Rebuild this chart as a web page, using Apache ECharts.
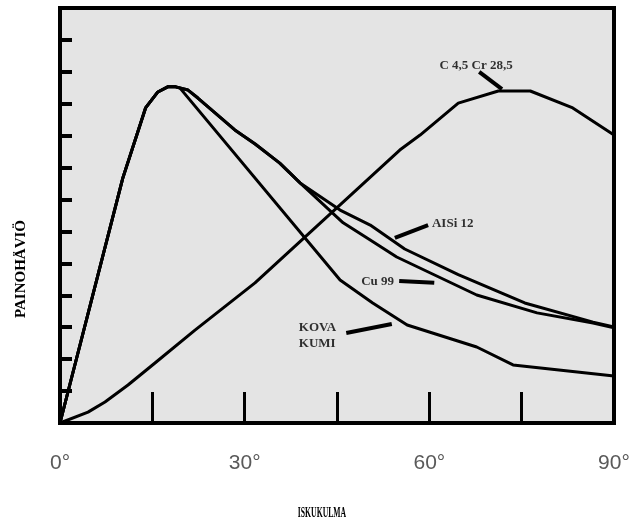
<!DOCTYPE html>
<html>
<head>
<meta charset="utf-8">
<script src="https://cdn.jsdelivr.net/npm/echarts@6/dist/echarts.min.js"></script>
<style>
html,body{margin:0;padding:0;background:#fff;}
#c{width:641px;height:522px;}
</style>
</head>
<body>
<div id="c"></div>
<script>
// X axis: impact angle in degrees; Y axis: weight loss (unlabelled tick units)
const xTickValues = [0, 30, 60, 90];
const xTickLabels = ['0°', '30°', '60°', '90°'];
const xTitle = 'ISKUKULMA';
const yTitle = 'PAINOHÄVIÖ';

const kovaX = [0, 10.2, 13.9, 15.9, 17.5, 18.8, 19.5, 45.5, 50.8, 56.4, 67.7, 73.6, 90];
const kovaY = [0, 7.67, 9.87, 10.37, 10.53, 10.53, 10.49, 4.48, 3.76, 3.07, 2.38, 1.82, 1.47];

const aisiX = [0, 10.2, 13.9, 15.9, 17.5, 18.8, 20.8, 22.4, 28.4, 31.7, 35.7, 39.0, 45.5, 50.4, 56.0, 64.7, 75.5, 86.6, 90];
const aisiY = [0, 7.67, 9.87, 10.37, 10.53, 10.53, 10.43, 10.18, 9.18, 8.74, 8.14, 7.52, 6.67, 6.20, 5.45, 4.65, 3.76, 3.16, 3.01];

const cuX = [0, 10.2, 13.9, 15.9, 17.5, 18.8, 20.8, 22.4, 28.4, 31.7, 35.7, 39.0, 46.0, 50.4, 54.7, 67.7, 77.5, 86.6, 90];
const cuY = [0, 7.67, 9.87, 10.37, 10.53, 10.53, 10.43, 10.18, 9.18, 8.74, 8.14, 7.52, 6.27, 5.73, 5.20, 4.01, 3.45, 3.13, 2.98];

const crX = [0, 4.55, 7.31, 11.05, 15.43, 21.93, 31.68, 55.2, 58.5, 64.7, 71.2, 76.4, 83.3, 90];
const crY = [0, 0.34, 0.66, 1.19, 1.88, 2.91, 4.39, 8.55, 9.02, 10.02, 10.40, 10.40, 9.87, 9.02];

// curve annotations (data coordinates)
const noteText = ['C 4,5 Cr 28,5', 'AISi 12', 'Cu 99', 'KOVA\nKUMI'];
const noteX = [67.6, 63.8, 51.6, 38.8];
const noteY = [11.21, 6.23, 4.42, 2.73];
const noteAlign = ['center', 'center', 'center', 'left'];
const leaderX1 = [68.1, 54.4, 55.1, 46.5];
const leaderY1 = [11.0, 5.80, 4.45, 2.82];
const leaderX2 = [71.8, 59.8, 60.8, 53.9];
const leaderY2 = [10.46, 6.20, 4.39, 3.10];

function pairs(xs, ys) { return xs.map((x, i) => [x, ys[i]]); }

const curveStyle = { color: '#000', width: 3 };
function curve(name, xs, ys) {
  return {
    name: name, type: 'line', data: pairs(xs, ys), symbol: 'none',
    lineStyle: curveStyle, itemStyle: { color: '#000' }, silent: true, z: 3
  };
}

const serifFont = '"Liberation Serif", "DejaVu Serif", serif';

const chart = echarts.init(document.getElementById('c'), null, { renderer: 'canvas' });
chart.setOption({
  animation: false,
  backgroundColor: '#fff',
  grid: {
    left: 60, right: 27, top: 8, bottom: 99,
    show: true, backgroundColor: '#e4e4e4', borderColor: '#000', borderWidth: 4
  },
  graphic: [
    {
      type: 'text', z: 10, x: 322, y: 513, scaleX: 0.55,
      style: {
        text: xTitle, fontFamily: serifFont, fontWeight: 'bold', fontSize: 14,
        fill: '#000', align: 'center', verticalAlign: 'middle'
      }
    },
    {
      type: 'text', z: 10, x: 21, y: 269, rotation: Math.PI / 2,
      style: {
        text: yTitle, fontFamily: serifFont, fontWeight: 'bold', fontSize: 15,
        fill: '#000', align: 'center', verticalAlign: 'middle'
      }
    }
  ],
  xAxis: {
    type: 'value', min: 0, max: 90, interval: 15,
    axisLine: { show: false },
    splitLine: { show: false },
    axisTick: { show: true, inside: true, length: 31, lineStyle: { color: '#000', width: 3 } },
    axisLabel: {
      margin: 30,
      fontFamily: '"Liberation Sans", Arial, sans-serif',
      fontSize: 21, color: '#5a5a5a',
      formatter: function (v) {
        const i = xTickValues.indexOf(v);
        return i >= 0 ? xTickLabels[i] : '';
      }
    }
  },
  yAxis: {
    type: 'value', min: 0, max: 13, interval: 1,
    axisLine: { show: false },
    splitLine: { show: false },
    axisTick: { show: true, inside: true, length: 12, lineStyle: { color: '#000', width: 4 } },
    axisLabel: { show: false }
  },
  series: [
    curve('KOVA KUMI', kovaX, kovaY),
    curve('AISi 12', aisiX, aisiY),
    curve('Cu 99', cuX, cuY),
    curve('C 4,5 Cr 28,5', crX, crY),
    {
      type: 'lines', coordinateSystem: 'cartesian2d', silent: true, z: 4,
      lineStyle: { color: '#000', width: 4, opacity: 1 },
      data: leaderX1.map((x, i) => ({ coords: [[x, leaderY1[i]], [leaderX2[i], leaderY2[i]]] }))
    },
    {
      type: 'scatter', silent: true, z: 5, symbolSize: 1,
      itemStyle: { color: 'rgba(0,0,0,0)' },
      data: noteX.map((x, i) => ({
        value: [x, noteY[i]],
        label: {
          show: true, position: 'inside', formatter: noteText[i], align: noteAlign[i],
          verticalAlign: 'middle',
          fontFamily: serifFont, fontWeight: 'bold', fontSize: 13, lineHeight: 16, color: '#000'
        }
      }))
    }
  ]
});
</script>
</body>
</html>
